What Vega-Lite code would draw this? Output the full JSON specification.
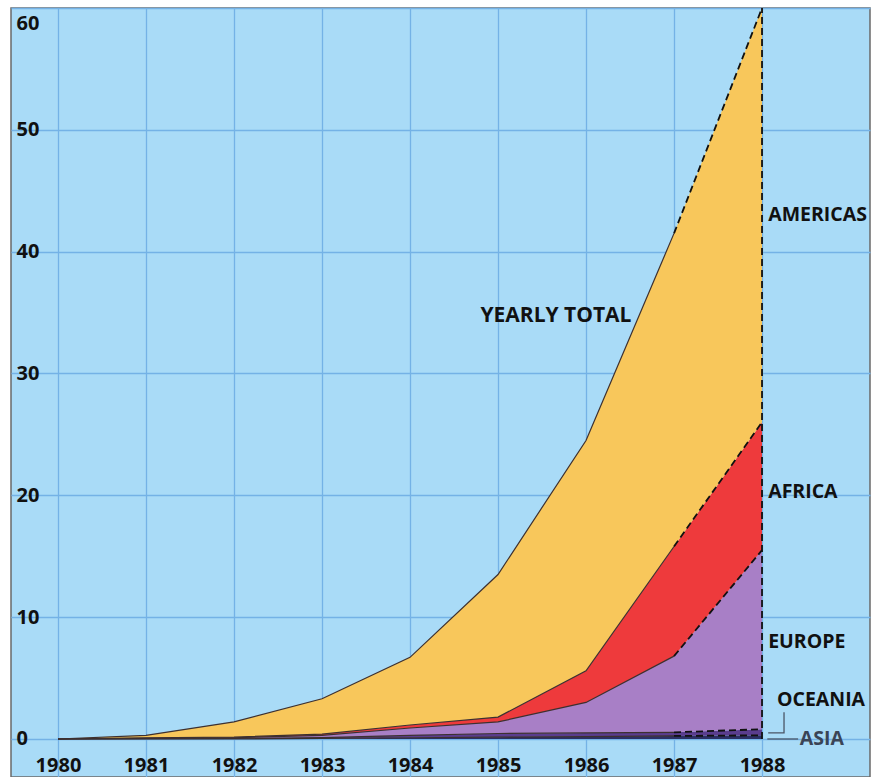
{
  "$schema": "https://vega.github.io/schema/vega-lite/v6.json",
  "width": 859,
  "height": 769,
  "autosize": {"type": "none"},
  "padding": {"left": 11, "top": 8, "right": 9, "bottom": 0},
  "background": "white",
  "config": {
    "view": {"fill": "#a9dbf7", "stroke": "#6a6a6a", "strokeWidth": 1.5},
    "font": "Open Sans",
    "axis": {
      "title": null, "domain": false, "ticks": false, "tickSize": 0,
      "labelFontSize": 20, "labelFontWeight": "bold", "labelColor": "#111111",
      "grid": true, "gridColor": "#74b2e6", "gridWidth": 1.3
    },
    "axisX": {"labelPadding": -12, "labelBaseline": "middle", "labelFlush": false},
    "axisY": {"labelAlign": "left", "labelPadding": -5, "labelFlush": true, "labelFlushOffset": -5}
  },
  "datasets": {
    "cases": [
      {"year": 1980, "region": "Asia", "k": 1, "value": 0},
      {"year": 1981, "region": "Asia", "k": 1, "value": 0},
      {"year": 1982, "region": "Asia", "k": 1, "value": 0},
      {"year": 1983, "region": "Asia", "k": 1, "value": 0.05},
      {"year": 1984, "region": "Asia", "k": 1, "value": 0.1},
      {"year": 1985, "region": "Asia", "k": 1, "value": 0.15},
      {"year": 1986, "region": "Asia", "k": 1, "value": 0.2},
      {"year": 1987, "region": "Asia", "k": 1, "value": 0.25},
      {"year": 1988, "region": "Asia", "k": 1, "value": 0.3},
      {"year": 1980, "region": "Oceania", "k": 2, "value": 0},
      {"year": 1981, "region": "Oceania", "k": 2, "value": 0.02},
      {"year": 1982, "region": "Oceania", "k": 2, "value": 0.04},
      {"year": 1983, "region": "Oceania", "k": 2, "value": 0.07},
      {"year": 1984, "region": "Oceania", "k": 2, "value": 0.2},
      {"year": 1985, "region": "Oceania", "k": 2, "value": 0.3},
      {"year": 1986, "region": "Oceania", "k": 2, "value": 0.3},
      {"year": 1987, "region": "Oceania", "k": 2, "value": 0.3},
      {"year": 1988, "region": "Oceania", "k": 2, "value": 0.5},
      {"year": 1980, "region": "Europe", "k": 3, "value": 0},
      {"year": 1981, "region": "Europe", "k": 3, "value": 0.03},
      {"year": 1982, "region": "Europe", "k": 3, "value": 0.06},
      {"year": 1983, "region": "Europe", "k": 3, "value": 0.18},
      {"year": 1984, "region": "Europe", "k": 3, "value": 0.6},
      {"year": 1985, "region": "Europe", "k": 3, "value": 0.95},
      {"year": 1986, "region": "Europe", "k": 3, "value": 2.5},
      {"year": 1987, "region": "Europe", "k": 3, "value": 6.25},
      {"year": 1988, "region": "Europe", "k": 3, "value": 14.7},
      {"year": 1980, "region": "Africa", "k": 4, "value": 0},
      {"year": 1981, "region": "Africa", "k": 4, "value": 0.05},
      {"year": 1982, "region": "Africa", "k": 4, "value": 0.05},
      {"year": 1983, "region": "Africa", "k": 4, "value": 0.1},
      {"year": 1984, "region": "Africa", "k": 4, "value": 0.25},
      {"year": 1985, "region": "Africa", "k": 4, "value": 0.4},
      {"year": 1986, "region": "Africa", "k": 4, "value": 2.6},
      {"year": 1987, "region": "Africa", "k": 4, "value": 9.0},
      {"year": 1988, "region": "Africa", "k": 4, "value": 10.5},
      {"year": 1980, "region": "Americas", "k": 5, "value": 0},
      {"year": 1981, "region": "Americas", "k": 5, "value": 0.2},
      {"year": 1982, "region": "Americas", "k": 5, "value": 1.25},
      {"year": 1983, "region": "Americas", "k": 5, "value": 2.9},
      {"year": 1984, "region": "Americas", "k": 5, "value": 5.55},
      {"year": 1985, "region": "Americas", "k": 5, "value": 11.7},
      {"year": 1986, "region": "Americas", "k": 5, "value": 18.9},
      {"year": 1987, "region": "Americas", "k": 5, "value": 25.7},
      {"year": 1988, "region": "Americas", "k": 5, "value": 34.0}
    ],
    "notes": [
      {"year": 1988.07, "y": 43.0, "label": "AMERICAS"},
      {"year": 1988.07, "y": 20.3, "label": "AFRICA"},
      {"year": 1988.07, "y": 8.0, "label": "EUROPE"},
      {"year": 1988.17, "y": 3.2, "label": "OCEANIA"},
      {"year": 1988.43, "y": 0.0, "label": "ASIA"},
      {"year": 1984.8, "y": 34.7, "label": "YEARLY TOTAL"}
    ],
    "connectors": [
      {"group": "oceania", "n": 1, "year": 1988.07, "y": 0.5},
      {"group": "oceania", "n": 2, "year": 1988.25, "y": 0.5},
      {"group": "oceania", "n": 3, "year": 1988.25, "y": 2.2},
      {"group": "asia", "n": 1, "year": 1988.06, "y": 0.0},
      {"group": "asia", "n": 2, "year": 1988.41, "y": 0.0}
    ],
    "edge": [
      {"year": 1988, "y": 0, "top": 60}
    ]
  },
  "encoding": {
    "x": {
      "field": "year", "type": "quantitative",
      "scale": {"domain": [1979.466, 1989.227], "nice": false, "zero": false},
      "axis": {"values": [1980, 1981, 1982, 1983, 1984, 1985, 1986, 1987, 1988], "format": "d"}
    },
    "y": {
      "field": "y", "type": "quantitative",
      "scale": {"domain": [-3.12, 60], "nice": false, "zero": false},
      "axis": {"values": [0, 10, 20, 30, 40, 50, 60]}
    }
  },
  "layer": [
    {
      "data": {"name": "cases"},
      "transform": [
        {"stack": "value", "groupby": ["year"], "sort": [{"field": "k", "order": "ascending"}], "as": ["y0", "y"]}
      ],
      "layer": [
        {
          "mark": {"type": "area", "opacity": 1},
          "encoding": {
            "y2": {"field": "y0"},
            "color": {
              "field": "region", "type": "nominal", "legend": null,
              "scale": {
                "domain": ["Asia", "Oceania", "Europe", "Africa", "Americas"],
                "range": ["#2c2f63", "#5a3d8e", "#a87fc6", "#ee3a3c", "#f8c75b"]
              }
            }
          }
        },
        {
          "transform": [{"filter": "datum.year <= 1987"}],
          "mark": {"type": "line", "stroke": "#3d3030", "strokeWidth": 1.2},
          "encoding": {"detail": {"field": "region"}}
        },
        {
          "transform": [{"filter": "datum.year >= 1987"}],
          "mark": {"type": "line", "stroke": "#111111", "strokeWidth": 1.8, "strokeDash": [7, 4]},
          "encoding": {"detail": {"field": "region"}}
        }
      ]
    },
    {
      "data": {"name": "edge"},
      "mark": {"type": "rule", "stroke": "#111111", "strokeWidth": 1.8, "strokeDash": [7, 4]},
      "encoding": {"y2": {"field": "top"}}
    },
    {
      "data": {"name": "connectors"},
      "mark": {"type": "line", "stroke": "#4a5566", "strokeWidth": 1.3},
      "encoding": {
        "detail": {"field": "group"},
        "order": {"field": "n"}
      }
    },
    {
      "data": {"name": "notes"},
      "mark": {"type": "text", "align": "left", "baseline": "middle", "fontWeight": "bold", "font": "Open Sans"},
      "encoding": {
        "text": {"field": "label"},
        "size": {"condition": {"test": "datum.label === 'YEARLY TOTAL'", "value": 21}, "value": 19.5},
        "color": {"condition": {"test": "datum.label === 'ASIA'", "value": "#3a4456"}, "value": "#111111"}
      }
    }
  ]
}
